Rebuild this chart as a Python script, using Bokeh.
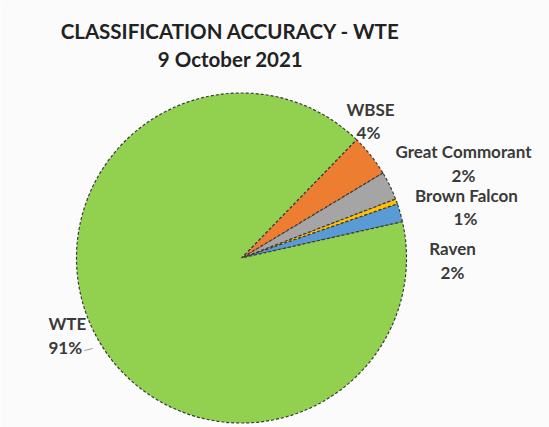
import math
from bokeh.plotting import figure
from bokeh.models import Range1d, ColumnDataSource
from bokeh.core.properties import value
from bokeh.embed import file_html
from bokeh.resources import INLINE

# ---- data ----
categories = ["Raven", "Brown Falcon", "Great Commorant", "WBSE", "WTE"]
shares = [1.8, 0.5, 2.8, 4.1, 90.8]
pct_labels = ["2%", "1%", "2%", "4%", "91%"]
colors = ["#5B9BD5", "#FFC000", "#A5A5A5", "#ED7D31", "#92D050"]
title_lines = ["CLASSIFICATION ACCURACY - WTE", "9 October 2021"]

# ---- layout ----
W, H = 549, 427
CX, CY, R = 241, H - 257.5, 165
START_DEG = 12.7
FONT = "Lato"

# label positions (image pixel coords): name, percent
label_pos = {
    "Raven": ((452, 248), (452, 272), "center"),
    "Brown Falcon": ((466, 195), (465, 218), "center"),
    "Great Commorant": ((463, 151), (463, 175), "center"),
    "WBSE": ((370, 109), (368, 132), "center"),
    "WTE": ((48, 323), (48, 347), "left"),
}

total = sum(shares)
starts, ends = [], []
a = math.radians(START_DEG)
for s in shares:
    starts.append(a)
    a += 2 * math.pi * s / total
    ends.append(a)

src = ColumnDataSource(dict(cat=categories, start=starts, end=ends, color=colors))

p = figure(width=W, height=H, x_range=Range1d(0, W), y_range=Range1d(0, H),
           output_backend="svg", toolbar_location=None, min_border=0)
p.axis.visible = False
p.xgrid.visible = False
p.ygrid.visible = False
p.outline_line_color = None
p.background_fill_color = "#fbfbfb"
p.border_fill_color = "#fbfbfb"

p.wedge(x=CX, y=CY, radius=R, start_angle="start", end_angle="end",
        fill_color="color", line_color="#3a3a3a", line_width=1.2,
        line_dash="3 2", source=src)

# labels
nx, ny, px_, py_, al = [], [], [], [], []
for c in categories:
    (n, pc, align) = label_pos[c]
    nx.append(n[0]); ny.append(H - n[1])
    px_.append(pc[0]); py_.append(H - pc[1])
    al.append(align)

lab = ColumnDataSource(dict(nx=nx, ny=ny, px=px_, py=py_, name=categories,
                            pct=pct_labels, align=al))
for xs, ys, ts in (("nx", "ny", "name"), ("px", "py", "pct")):
    p.text(x=xs, y=ys, text=ts, source=lab, text_align="align",
           text_baseline="middle", text_font=value(FONT),
           text_font_style="bold", text_font_size="17px",
           text_color="#3a3a3a")

# small leader line for WTE
p.line(x=[84, 92], y=[H - 350, H - 348], line_color="#9a9a9a", line_width=1)

# title
p.text(x=[230, 230], y=[H - 30, H - 58], text=title_lines,
       text_align="center", text_baseline="middle", text_font=value(FONT),
       text_font_style="bold", text_font_size="20.5px", text_color="#222222")

open("out.html", "w").write(file_html(p, INLINE))
